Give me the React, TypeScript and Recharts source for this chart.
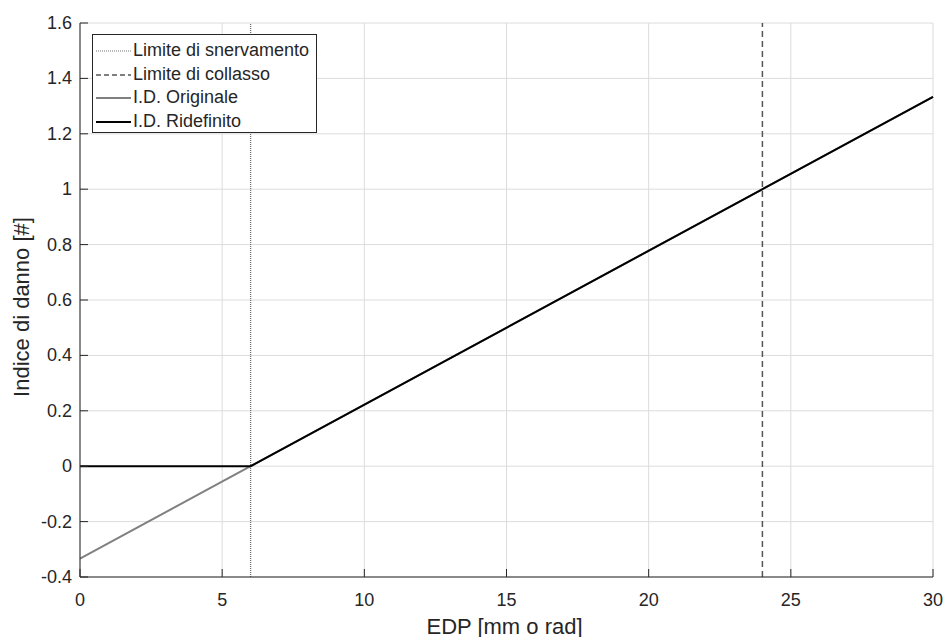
import React from 'react';
import { LineChart, Line, XAxis, YAxis, CartesianGrid, ReferenceLine, Legend } from 'recharts';

const edp = [0, 6, 30];
const idOriginale = [-0.3333, 0, 1.3333];
const idRidefinito = [0, 0, 1.3333];
const limiteSnervamento = 6;
const limiteCollasso = 24;
const xTicks = [0, 5, 10, 15, 20, 25, 30];
const yTicks = [-0.4, -0.2, 0, 0.2, 0.4, 0.6, 0.8, 1, 1.2, 1.4, 1.6];
const legendLabels = ['Limite di snervamento', 'Limite di collasso', 'I.D. Originale', 'I.D. Ridefinito'];

const data = edp.map((x, i) => ({ x, originale: idOriginale[i], ridefinito: idRidefinito[i] }));

const W = 946;
const H = 637;
const PLOT_LEFT = 80;
const PLOT_TOP = 23;
const PLOT_RIGHT = 933;
const PLOT_BOTTOM = 577;
const Y_AXIS_W = 60;
const X_AXIS_H = 40;
const FONT = '"Liberation Sans", Arial, Helvetica, sans-serif';
const TEXT = '#262626';

const fmt = (v: number) => {
  const r = Math.round(v * 10) / 10;
  return String(r);
};

const YTick = (props: any) => {
  const { y, payload } = props;
  return (
    <g>
      <line x1={PLOT_LEFT} x2={PLOT_LEFT + 8} y1={y} y2={y} stroke="#262626" strokeWidth={1} />
      <text x={PLOT_LEFT - 8} y={y} textAnchor="end" dominantBaseline="central" fontSize={18} fontFamily={FONT} fill={TEXT}>
        {fmt(payload.value)}
      </text>
    </g>
  );
};

const XTick = (props: any) => {
  const { x, payload } = props;
  return (
    <g>
      <line x1={x} x2={x} y1={PLOT_BOTTOM} y2={PLOT_BOTTOM - 8} stroke="#262626" strokeWidth={1} />
      <text x={x} y={PLOT_BOTTOM + 23} textAnchor="middle" dominantBaseline="central" fontSize={18} fontFamily={FONT} fill={TEXT}>
        {fmt(payload.value)}
      </text>
    </g>
  );
};

const legendStyles = [
  { stroke: '#777777', dash: '1 1', width: 1 },
  { stroke: '#555555', dash: '5 3', width: 1.5 },
  { stroke: '#808080', dash: undefined, width: 2 },
  { stroke: '#000000', dash: undefined, width: 2 },
];

const LegendBox = () => (
  <div
    style={{
      width: 225,
      height: 99,
      boxSizing: 'border-box',
      border: '1px solid #262626',
      background: '#fff',
      paddingTop: 4,
      fontFamily: FONT,
      fontSize: 18,
      color: TEXT,
    }}
  >
    {legendLabels.map((label, i) => (
      <div key={label} style={{ display: 'flex', alignItems: 'center', height: 23.7, lineHeight: '23.7px' }}>
        <svg width={40} height={10} style={{ flex: 'none' }}>
          <line
            x1={3}
            x2={38}
            y1={5}
            y2={5}
            stroke={legendStyles[i].stroke}
            strokeWidth={legendStyles[i].width}
            strokeDasharray={legendStyles[i].dash}
          />
        </svg>
        <span style={{ whiteSpace: 'nowrap' }}>{label}</span>
      </div>
    ))}
  </div>
);

export default function App() {
  return (
    <div style={{ position: 'absolute', left: 0, top: 0, width: W, height: H, background: '#fff' }}>
      <LineChart
        width={W}
        height={H}
        data={data}
        margin={{ top: PLOT_TOP, right: W - PLOT_RIGHT, bottom: H - PLOT_BOTTOM - X_AXIS_H, left: PLOT_LEFT - Y_AXIS_W }}
      >
        <CartesianGrid stroke="#dcdcdc" strokeWidth={1} />
        <XAxis
          dataKey="x"
          type="number"
          domain={[0, 30]}
          ticks={xTicks}
          height={X_AXIS_H}
          axisLine={{ stroke: '#262626' }}
          tickLine={false}
          tick={<XTick />}
          interval={0}
          label={{
            content: () => (
              <text x={(PLOT_LEFT + PLOT_RIGHT) / 2 - 2} y={626} textAnchor="middle" dominantBaseline="central" fontSize={22} fontFamily={FONT} fill={TEXT}>
                EDP [mm o rad]
              </text>
            ),
          }}
        />
        <YAxis
          type="number"
          domain={[-0.4, 1.6]}
          ticks={yTicks}
          width={Y_AXIS_W}
          axisLine={{ stroke: '#262626' }}
          tickLine={false}
          tick={<YTick />}
          interval={0}
          label={{
            content: () => (
              <text x={21} y={307} textAnchor="middle" dominantBaseline="central" fontSize={22} fontFamily={FONT} fill={TEXT} transform="rotate(-90 21 307)">
                Indice di danno [#]
              </text>
            ),
          }}
        />
        <ReferenceLine x={limiteSnervamento} stroke="#707070" strokeWidth={1.3} strokeDasharray="1 1" />
        <ReferenceLine x={limiteCollasso} stroke="#555555" strokeWidth={1.5} strokeDasharray="6 4" />
        <Line dataKey="originale" type="linear" stroke="#808080" strokeWidth={2} dot={false} isAnimationActive={false} />
        <Line dataKey="ridefinito" type="linear" stroke="#000000" strokeWidth={2} dot={false} isAnimationActive={false} />
        <Legend
          layout="horizontal"
          verticalAlign="middle"
          align="center"
          content={<LegendBox />}
          wrapperStyle={{ position: 'absolute', left: 92, top: 34, width: 225, height: 99 }}
        />
      </LineChart>
    </div>
  );
}
